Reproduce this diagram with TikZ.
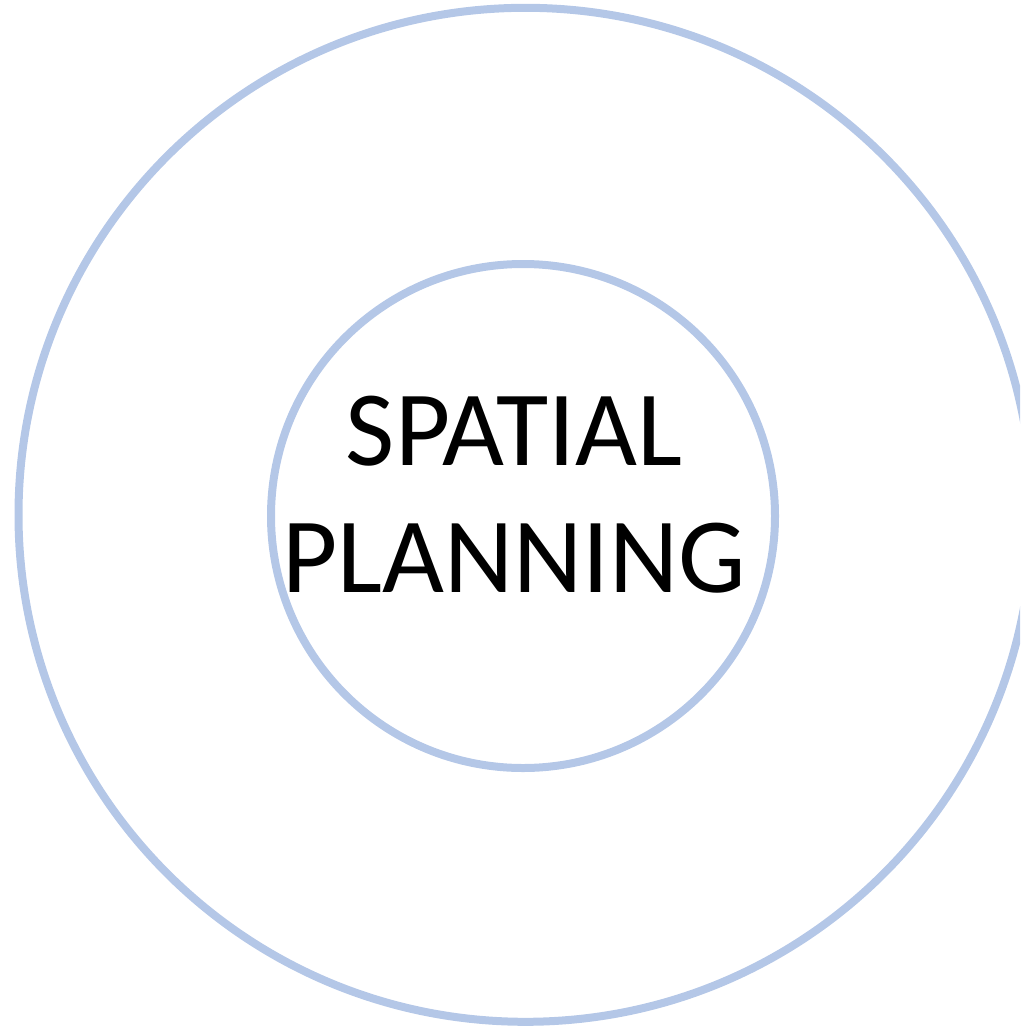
\documentclass[tikz,border=0pt]{standalone}
\usepackage{fontspec}
\setmainfont{Carlito}
\definecolor{ringblue}{RGB}{180,199,231}
\begin{document}
\begin{tikzpicture}[x=1pt,y=-1pt,
  ring/.style={draw=ringblue,line width=8pt},
  label/.style={anchor=base,inner sep=0pt,font=\fontsize{107}{127}\selectfont}]
\useasboundingbox (0,0) rectangle (1020,1028);
\clip (0,0) rectangle (1020,1028);
\draw[ring] (525.5,514.8) circle (507);
\draw[ring] (523,516) circle (252);
\node[label] (l1) at (514,465) {SPATIAL};
\node[label] (l2) at (514,592) {PLANNING};
\end{tikzpicture}
\end{document}
